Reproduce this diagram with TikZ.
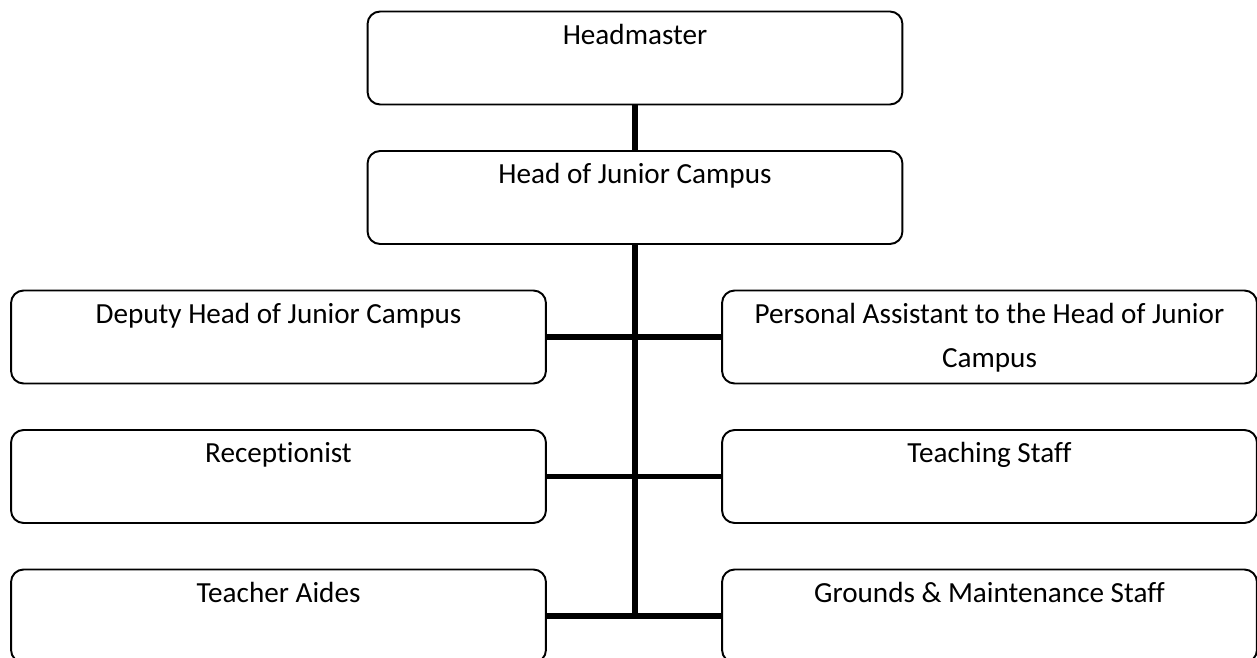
\documentclass[tikz,border=0pt]{standalone}
\usepackage{fontspec}
\setmainfont{Carlito}[Ligatures=NoCommon]

\begin{document}
\begin{tikzpicture}[x=0.02cm,y=-0.02cm,
    orgbox/.style={draw, rounded corners=0.25cm, line width=1.1pt, minimum width=10.7cm, minimum height=1.86cm, inner sep=0pt},
    orgtext/.style={anchor=north, inner sep=0pt, align=center, font=\fontsize{16.6}{25}\selectfont, yshift=-0.26cm},
    link/.style={line width=3.1pt}]
    \useasboundingbox (0,0) rectangle (1257,658);
    % boxes
    \node[orgbox] (head) at (635,58) {};
    \node[orgbox] (hjc) at (635,197.5) {};
    \node[orgbox] (deputy) at (278.5,337) {};
    \node[orgbox] (pa) at (989.5,337) {};
    \node[orgbox] (recept) at (278.5,476.5) {};
    \node[orgbox] (teach) at (989.5,476.5) {};
    \node[orgbox] (aides) at (278.5,616) {};
    \node[orgbox] (grounds) at (989.5,616) {};
    % texts
    \node[orgtext] (head-t) at (head.north) {Headmaster};
    \node[orgtext] (hjc-t) at (hjc.north) {Head of Junior Campus};
    \node[orgtext] (deputy-t) at (deputy.north) {Deputy Head of Junior Campus};
    \node[orgtext] (pa-t) at (pa.north) {Personal Assistant to the Head of Junior\\Campus};
    \node[orgtext] (recept-t) at (recept.north) {Receptionist};
    \node[orgtext] (teach-t) at (teach.north) {Teaching Staff};
    \node[orgtext] (aides-t) at (aides.north) {Teacher Aides};
    \node[orgtext] (grounds-t) at (grounds.north) {Grounds \& Maintenance Staff};
    % links
    \coordinate (spine) at (hjc.south |- aides.east);
    \draw[link] (head) -- (hjc);
    \draw[link] (hjc) -- (spine);
    \draw[link] (deputy) -- (pa);
    \draw[link] (recept) -- (teach);
    \draw[link] (aides) -- (grounds);
\end{tikzpicture}
\end{document}
